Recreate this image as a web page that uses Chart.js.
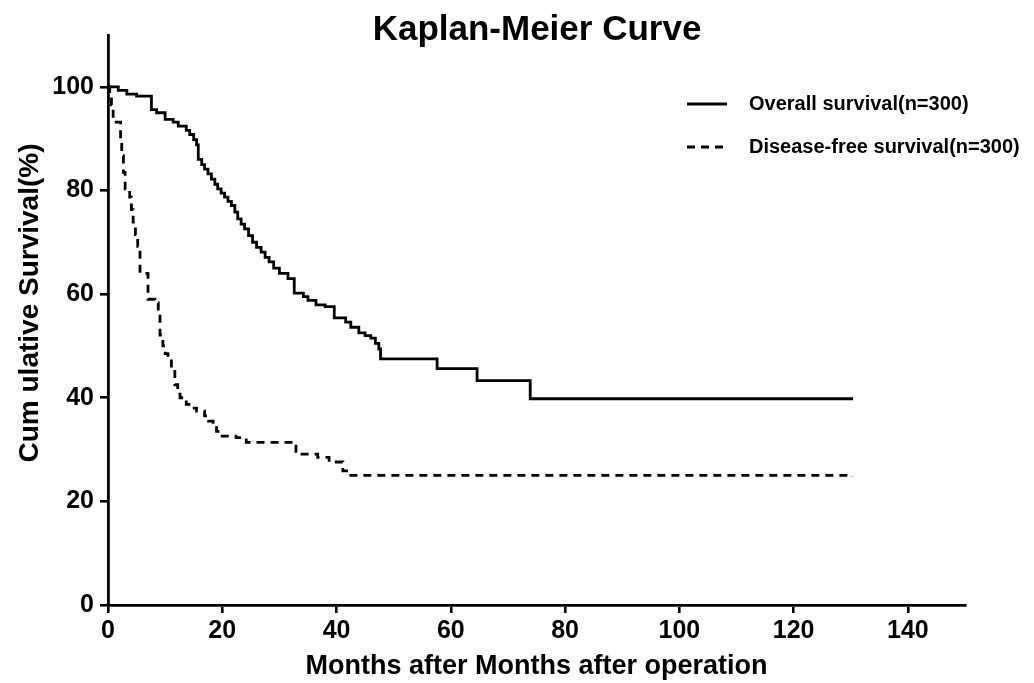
<!DOCTYPE html>
<html>
<head>
<meta charset="utf-8">
<script src="https://cdn.jsdelivr.net/npm/chart.js@4.4.1/dist/chart.umd.min.js"></script>
<style>
html,body{margin:0;padding:0;background:#fff;}
#wrap{width:1034px;height:683px;position:relative;}
</style>
</head>
<body>
<div id="wrap"><canvas id="c" width="1034" height="683"></canvas></div>
<script>
// ---- data ----
const chartTitle = "Kaplan-Meier Curve";
const xTitle = "Months after Months after operation";
const yTitle = "Cum ulative Survival(%)";
const xTicks = [0, 20, 40, 60, 80, 100, 120, 140];
const yTicks = [0, 20, 40, 60, 80, 100];

const osLabel = "Overall survival(n=300)";
const osMonths = [0, 1.8, 3.3, 5.0, 7.6, 8.5, 10.0, 11.4, 12.3, 13.7, 14.3, 15.0, 15.5, 15.8, 16.4, 16.9, 17.5, 18.1, 18.7, 19.2, 19.8, 20.4, 21.0, 21.6, 22.2, 22.7, 23.3, 23.9, 24.6, 25.3, 26.0, 26.8, 27.5, 28.2, 29.0, 30.0, 31.5, 32.6, 34.2, 35.0, 36.4, 38.0, 39.6, 41.6, 42.5, 43.9, 45.0, 46.0, 46.8, 47.4, 47.7, 57.6, 64.6, 73.9, 130.4];
const osSurv   = [100, 99.3, 98.6, 98.2, 95.6, 95.0, 93.7, 93.2, 92.4, 91.6, 90.8, 89.8, 88.8, 86.0, 85.0, 84.1, 83.2, 82.2, 81.2, 80.3, 79.5, 78.7, 77.9, 77.1, 75.8, 74.5, 73.5, 72.6, 71.3, 70.0, 69.0, 68.1, 67.1, 66.2, 65.0, 64.0, 63.0, 60.2, 59.5, 58.8, 57.9, 57.6, 55.4, 54.6, 53.6, 52.5, 52.0, 51.5, 50.5, 49.4, 47.5, 45.6, 43.3, 39.8, 39.8];

const dfsLabel = "Disease-free survival(n=300)";
const dfsMonths = [0, 0.3, 0.6, 0.9, 2.2, 2.4, 2.7, 3.0, 3.8, 4.1, 4.4, 4.8, 5.2, 5.6, 7.0, 8.2, 8.8, 9.1, 9.6, 10.0, 10.5, 11.1, 11.7, 12.2, 12.6, 13.7, 14.5, 15.5, 16.9, 17.6, 18.4, 19.0, 19.5, 22.4, 24.2, 32.9, 36.7, 38.7, 41.1, 42.5, 130.3];
const dfsSurv   = [100, 98.5, 96.5, 93.2, 90.0, 86.7, 83.5, 80.3, 78.7, 76.3, 73.9, 71.5, 69.2, 64.0, 59.0, 58.3, 56.3, 52.1, 50.0, 48.5, 47.6, 45.1, 42.5, 41.0, 40.0, 38.7, 38.0, 37.4, 36.5, 35.5, 34.5, 33.5, 32.6, 32.3, 31.4, 29.1, 28.5, 27.6, 25.9, 25.0, 24.8];

const toXY = (xs, ys) => xs.map((x, i) => ({x: x, y: ys[i]}));

const FONT = "'Liberation Sans', Arial, sans-serif";

const textPlugin = {
  id: 'texts',
  afterDraw(chart) {
    const ctx = chart.ctx;
    ctx.save();
    ctx.fillStyle = '#000';
    ctx.font = "bold 35px " + FONT;
    ctx.textAlign = 'center';
    ctx.textBaseline = 'middle';
    ctx.fillText(chartTitle, 537, 30);
    ctx.restore();

    ctx.save();
    ctx.fillStyle = '#000';
    ctx.font = "bold 28px " + FONT;
    ctx.textAlign = 'center';
    ctx.textBaseline = 'middle';
    ctx.translate(30, 303);
    ctx.rotate(-Math.PI / 2);
    ctx.fillText(yTitle, 0, 0);
    ctx.restore();
  }
};

const legendPlugin = {
  id: 'insideLegend',
  afterDraw(chart) {
    const ctx = chart.ctx;
    const rows = [104, 147];
    chart.data.datasets.forEach((ds, i) => {
      const y = rows[i];
      ctx.save();
      ctx.strokeStyle = '#000';
      ctx.lineWidth = 2.8;
      ctx.setLineDash(ds.borderDash || []);
      ctx.beginPath();
      ctx.moveTo(687, y);
      ctx.lineTo(727, y);
      ctx.stroke();
      ctx.setLineDash([]);
      ctx.fillStyle = '#000';
      ctx.font = "bold 20px " + FONT;
      ctx.textAlign = 'left';
      ctx.textBaseline = 'middle';
      ctx.fillText(ds.label, 749, y);
      ctx.restore();
    });
  }
};

new Chart(document.getElementById('c'), {
  type: 'line',
  data: {
    datasets: [
      {label: osLabel, data: toXY(osMonths, osSurv), stepped: true, borderColor: '#000', borderWidth: 2.8, pointRadius: 0, fill: false},
      {label: dfsLabel, data: toXY(dfsMonths, dfsSurv), stepped: true, borderColor: '#000', borderWidth: 2.8, borderDash: [8, 6], pointRadius: 0, fill: false}
    ]
  },
  options: {
    responsive: false,
    animation: false,
    devicePixelRatio: 1,
    layout: {padding: {left: 0, right: 69, top: 35, bottom: 0}},
    plugins: {legend: {display: false}, title: {display: false}, tooltip: {enabled: false}},
    scales: {
      x: {
        type: 'linear', min: 0, max: 150,
        afterBuildTicks(s) { s.ticks = xTicks.map(v => ({value: v})); },
        afterFit(s) { s.height = 78; },
        border: {display: true, color: '#000', width: 2.8},
        grid: {display: true, drawOnChartArea: false, drawTicks: true, tickLength: 8, color: '#000', lineWidth: 2.6},
        ticks: {color: '#000', padding: 3, font: {family: FONT, size: 25, weight: 'bold'}, maxRotation: 0, autoSkip: false},
        title: {display: true, text: xTitle, color: '#000', padding: {top: 0, bottom: 0}, font: {family: FONT, size: 27, weight: 'bold'}}
      },
      y: {
        type: 'linear', min: 0, max: 110,
        afterBuildTicks(s) { s.ticks = yTicks.map(v => ({value: v})); },
        afterFit(s) { s.width = 108; },
        border: {display: true, color: '#000', width: 2.8},
        grid: {display: true, drawOnChartArea: false, drawTicks: true, tickLength: 8, color: '#000', lineWidth: 2.6},
        ticks: {color: '#000', padding: 6, font: {family: FONT, size: 25, weight: 'bold'}, autoSkip: false},
        title: {display: false}
      }
    }
  },
  plugins: [textPlugin, legendPlugin]
});
</script>
</body>
</html>
